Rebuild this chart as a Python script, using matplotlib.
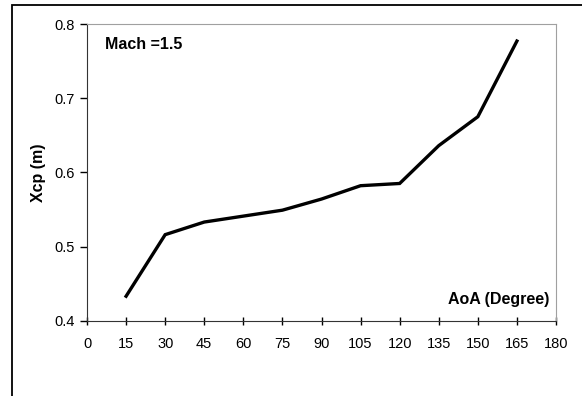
import matplotlib.pyplot as plt
from matplotlib.patches import Rectangle

plt.rcParams['font.family'] = ['Liberation Sans', 'DejaVu Sans']

aoa = [15, 30, 45, 60, 75, 90, 105, 120, 135, 150, 165]
xcp = [0.433, 0.516, 0.533, 0.541, 0.549, 0.564, 0.582, 0.585, 0.636, 0.675, 0.777]
x_ticks = list(range(0, 181, 15))
y_ticks = [0.4, 0.5, 0.6, 0.7, 0.8]

fig = plt.figure(figsize=(5.82, 3.96), dpi=100)
# outer chart frame (only left and top edges fall inside the picture)
fig.patches.append(Rectangle((12 / 582, -0.1), 1.2, 1 - 5 / 396 + 0.1,
                             transform=fig.transFigure, fill=False,
                             edgecolor='black', linewidth=1.3))

ax = fig.add_axes([87 / 582, 1 - 320.7 / 396, (556 - 87) / 582, (320.7 - 24) / 396])
ax.plot(aoa, xcp, color='black', linewidth=2.4, solid_joinstyle='miter')

ax.set_xlim(0, 180)
ax.set_ylim(0.4, 0.8)
ax.set_xticks(x_ticks)
ax.set_yticks(y_ticks)
ax.set_yticklabels(['%.1f' % v for v in y_ticks])
ax.tick_params(axis='x', direction='inout', length=6, width=1, labelsize=10.5, pad=9)
ax.tick_params(axis='y', direction='out', length=5, width=1, labelsize=10.5, pad=4)

for s in ['top', 'right']:
    ax.spines[s].set_color('#a0a0a0')
for s in ['left', 'bottom']:
    ax.spines[s].set_color('#333333')

ax.set_ylabel('Xcp (m)', fontsize=11.5, fontweight='bold', labelpad=6)
ax.text(0.038, 0.93, 'Mach =1.5', transform=ax.transAxes, fontsize=11.5,
        fontweight='bold', va='center', ha='left')
ax.text(0.985, 0.07, 'AoA (Degree)', transform=ax.transAxes, fontsize=11.5,
        fontweight='bold', va='center', ha='right')

fig.savefig('out.png', dpi=100)
